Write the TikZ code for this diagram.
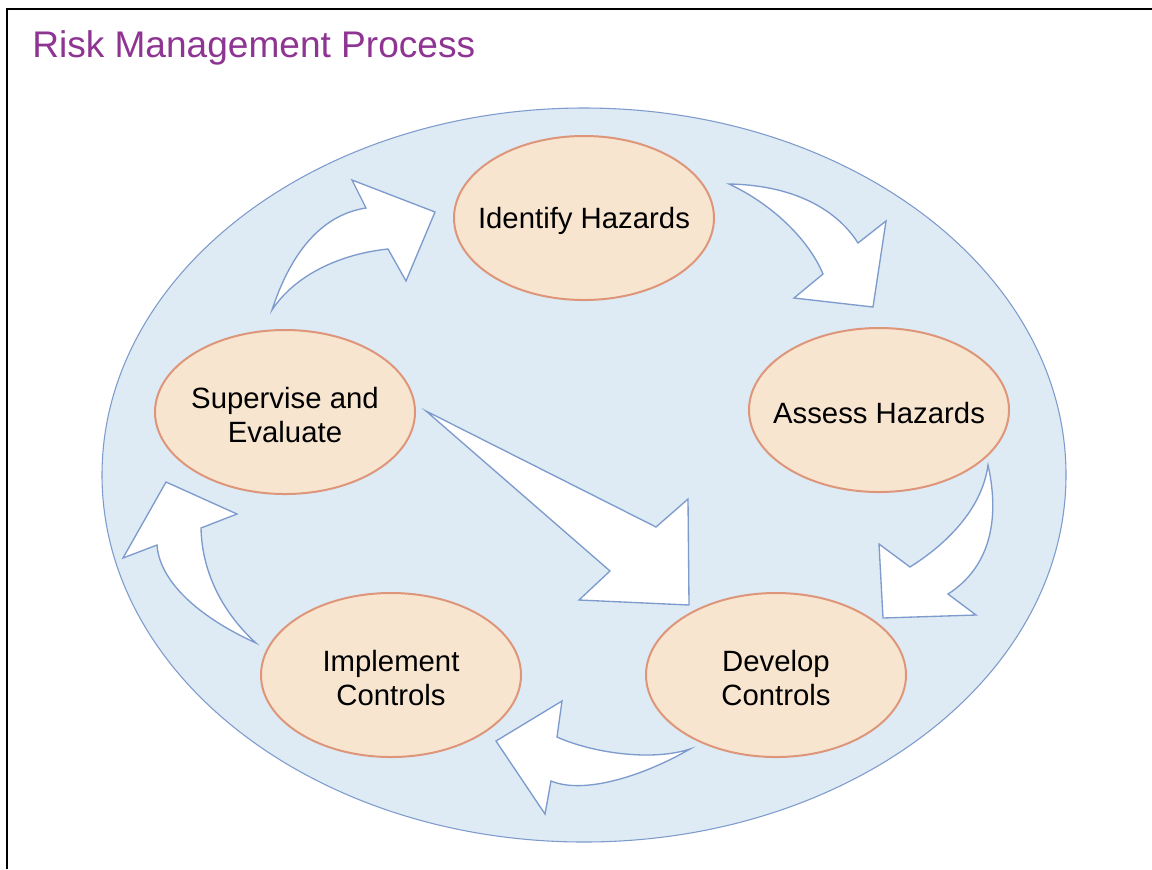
\documentclass[tikz,border=0pt]{standalone}
\usepackage{fontspec}
\setmainfont{Liberation Sans}
\usetikzlibrary{shapes.geometric}
\definecolor{bigfill}{RGB}{222,234,244}
\definecolor{bluedge}{RGB}{125,155,204}
\definecolor{nodefill}{RGB}{248,229,208}
\definecolor{nodeedge}{RGB}{222,150,122}
\definecolor{titlecol}{RGB}{142,52,146}
\begin{document}
\begin{tikzpicture}[x=0.75pt,y=-0.75pt,
  bigell/.style={ellipse,draw=bluedge,fill=bigfill,line width=0.8pt,minimum width=723pt,minimum height=550.5pt,inner sep=0pt},
  stage/.style={ellipse,draw=nodeedge,fill=nodefill,line width=1.5pt,minimum width=195pt,minimum height=123pt,inner sep=0pt},
  stagetext/.style={inner sep=0pt,align=center,font=\fontsize{22}{25.5}\selectfont,yshift=-2.2pt},
  blockarrow/.style={draw=bluedge,fill=white,line width=1pt,line join=miter}]
\useasboundingbox (0,0) rectangle (1152,869);
\fill[white] (0,0) rectangle (1152,869);
\draw[line width=1.9pt,black] (7,869) -- (7,9) -- (1152,9);
\node[anchor=base west,text=titlecol,font=\fontsize{27.8}{30}\selectfont,inner sep=0pt] (title) at (32,57) {Risk Management Process};
\node[bigell] (cycle) at (584,475) {};
\node[stage] (identify) at (584,218) {};
\node[stage] (assess) at (879,410) {};
\node[stage] (develop) at (776,675) {};
\node[stage] (implement) at (391,675) {};
\node[stage] (supervise) at (285,412) {};
\node[stagetext] (identifyT) at (identify.center) {Identify Hazards};
\node[stagetext] (assessT) at (assess.center) {Assess Hazards};
\node[stagetext] (developT) at (develop.center) {Develop\\Controls};
\node[stagetext] (implementT) at (implement.center) {Implement\\Controls};
\node[stagetext] (superviseT) at (supervise.center) {Supervise and\\Evaluate};
% Supervise -> Identify
\draw[blockarrow] (272,310) .. controls (290,255) and (320,215) .. (366,208) -- (352,180) -- (435,212) -- (406,281) -- (388,249) .. controls (340,254) and (295,275) .. (272,310) -- cycle;
% Identify -> Assess
\draw[blockarrow] (729,184) .. controls (790,185) and (835,207) .. (858,243) -- (886,221) -- (873,307) -- (794,298) -- (823,274) .. controls (808,238) and (770,203) .. (729,184) -- cycle;
% Assess -> Develop
\draw[blockarrow] (988,465) .. controls (997,505) and (998,562) .. (948,594) -- (976,615) -- (883,618) -- (879,544) -- (910,567) .. controls (945,545) and (982,510) .. (988,465) -- cycle;
% Develop -> Implement
\draw[blockarrow] (690,749) .. controls (645,775) and (585,795) .. (551,781) -- (545,814) -- (496,741) -- (562,701) -- (557,737) .. controls (590,752) and (650,762) .. (690,749) -- cycle;
% Implement -> Supervise
\draw[blockarrow] (256,643) .. controls (205,620) and (160,585) .. (157,545) -- (123,558) -- (166,482) -- (237,514) -- (201,528) .. controls (202,575) and (225,615) .. (256,643) -- cycle;
% Supervise -> Develop
\draw[blockarrow] (426,411) -- (656,527) -- (688,499) -- (689,605) -- (579,600) -- (610,571) -- cycle;
\end{tikzpicture}
\end{document}
